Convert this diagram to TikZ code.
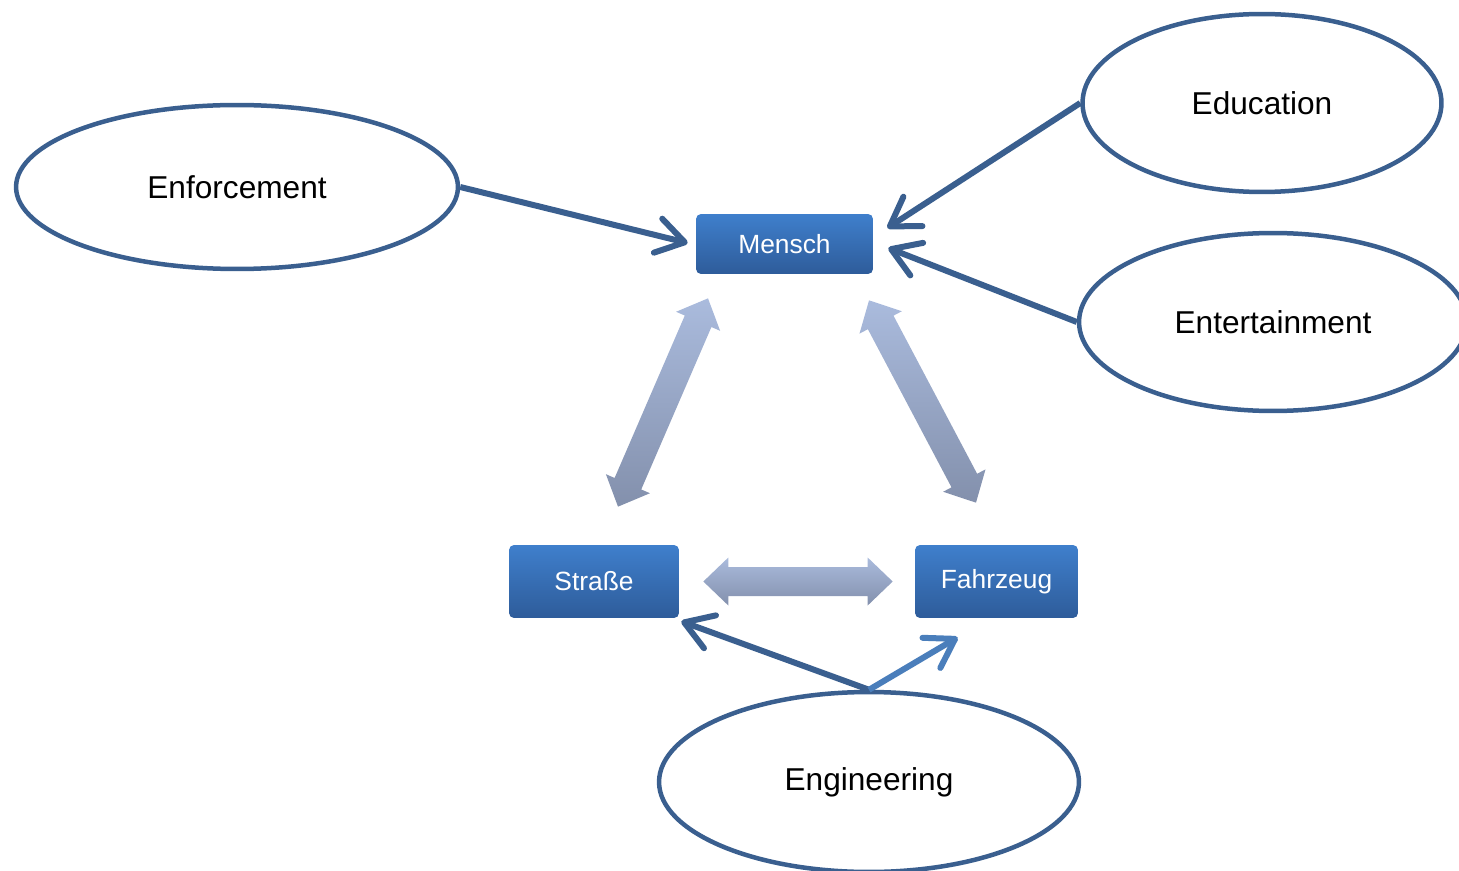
\documentclass[tikz,border=0pt]{standalone}
\usepackage{fontspec}
\setmainfont{Liberation Sans}
\usetikzlibrary{arrows.meta, positioning, shapes.geometric, calc}
\definecolor{eline}{HTML}{3A5F8F}
\definecolor{elight}{HTML}{4A7EBB}
\definecolor{btop}{HTML}{3F7FCC}
\definecolor{bbot}{HTML}{2E5C9A}
\definecolor{atop}{HTML}{AABBDD}
\definecolor{abot}{HTML}{8390AC}
\tikzset{
  oval/.style={ellipse, draw=eline, line width=0.09cm, fill=white,
               font=\fontsize{18}{22}\selectfont},
  fbox/.style={rectangle, rounded corners=0.1cm, top color=btop, bottom color=bbot,
               text=white, font=\fontsize{15}{18}\selectfont},
  conn/.style={-{Straight Barb[round, length=0.55cm, width=0.7cm]}, line width=0.12cm,
               eline},
}
\newcommand{\dblarrow}[2]{%
  \coordinate (#1h) at ($(#1)!0.5cm!(#2)$);
  \coordinate (#2h) at ($(#2)!0.5cm!(#1)$);
  \shade[top color=atop, bottom color=abot] (#1)
    -- ($(#1h)!0.48cm!90:(#2)$) -- ($(#1h)!0.29cm!90:(#2)$)
    -- ($(#2h)!0.29cm!-90:(#1)$) -- ($(#2h)!0.48cm!-90:(#1)$)
    -- (#2)
    -- ($(#2h)!0.48cm!90:(#1)$) -- ($(#2h)!0.29cm!90:(#1)$)
    -- ($(#1h)!0.29cm!-90:(#2)$) -- ($(#1h)!0.48cm!-90:(#2)$) -- cycle;
}

\begin{document}
\begin{tikzpicture}[x=0.02cm, y=-0.02cm]
  \useasboundingbox (0,0) rectangle (1459,871);

  \node[oval, minimum width=8.84cm, minimum height=3.28cm] (enf) at (237,187) {Enforcement};
  \node[oval, minimum width=7.18cm, minimum height=3.56cm] (edu) at (1262,103) {Education};
  \node[oval, minimum width=7.76cm, minimum height=3.56cm] (ent) at (1273,322) {Entertainment};
  \node[oval, minimum width=8.4cm, minimum height=3.6cm] (eng) at (869,782) {Engineering};

  \node[fbox, minimum width=3.54cm, minimum height=1.2cm] (mensch) at (784.5,244) {Mensch};
  \node[fbox, minimum width=3.4cm, minimum height=1.46cm] (str) at (594,581.5) {Straße};
  \node[fbox, minimum width=3.26cm, minimum height=1.46cm] (fz) at (996.5,581.5) {Fahrzeug};

  \coordinate (lb) at ([shift={(24,-38)}]str.north);
  \coordinate (lt) at ([shift={(-76.5,24)}]mensch.south);
  \coordinate (rt) at ([shift={(84.5,26)}]mensch.south);
  \coordinate (rb) at ([shift={(-20.5,-42)}]fz.north);
  \coordinate (hl) at ([shift={(24,0)}]str.east);
  \coordinate (hr) at ([shift={(-22,0)}]fz.west);
  \dblarrow{lb}{lt}
  \dblarrow{rt}{rb}
  \dblarrow{hl}{hr}

  \draw[conn] (enf.east) -- ([shift={(-8,-1)}]mensch.west);
  \draw[conn] (edu.west) -- ([shift={(14,-16)}]mensch.east);
  \draw[conn] (ent.west) -- ([shift={(15,4)}]mensch.east);
  \draw[conn] (eng.north) -- ([shift={(2,3)}]str.south east);
  \draw[conn, elight] (eng.north) -- ([shift={(43,19)}]fz.south west);
\end{tikzpicture}
\end{document}
